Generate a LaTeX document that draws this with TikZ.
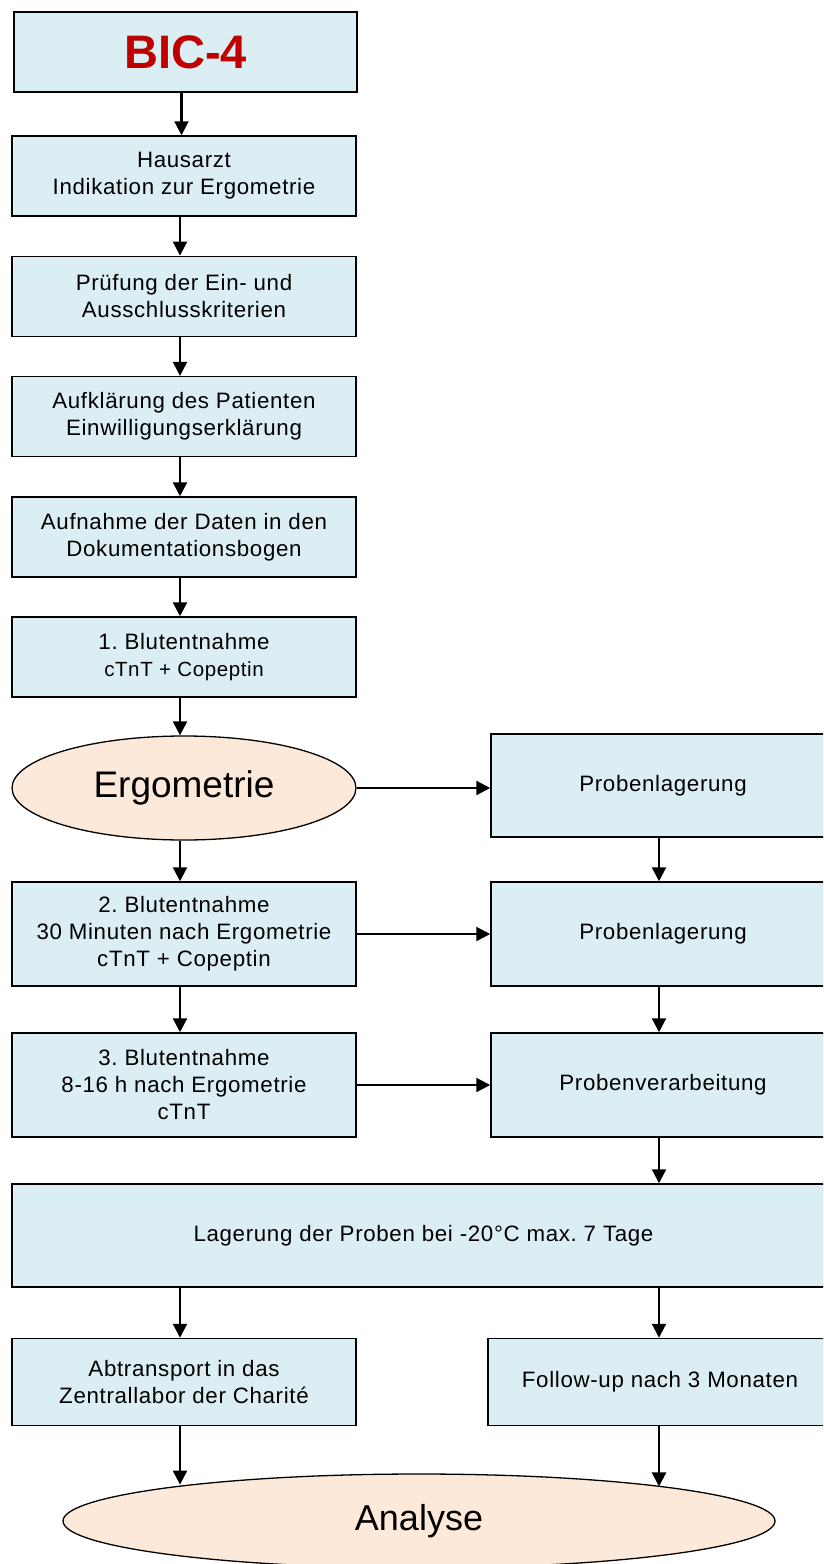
\documentclass[tikz,border=0pt]{standalone}
\usepackage{fontspec}
\setmainfont{Liberation Sans}
\newfontfamily\boxfont{Liberation Sans}[LetterSpace=3]
\usetikzlibrary{shapes.geometric,arrows.meta}
\definecolor{boxblue}{HTML}{DAEEF3}
\definecolor{peach}{HTML}{FDE9D9}
\definecolor{bicred}{HTML}{C00000}
\frenchspacing
\begin{document}
\begin{tikzpicture}[x=1pt,y=-1pt,
  box/.style={draw=black, line width=1.5pt, fill=boxblue, minimum width=344pt, minimum height=80pt,
    inner sep=0pt, align=center, font=\boxfont\frenchspacing\fontsize{22.3}{27}\selectfont},
  oval/.style={ellipse, draw=black, line width=1.3pt, fill=peach, inner sep=0pt},
  arr/.style={line width=2.2pt, -{Triangle[length=14pt,width=14pt]}}]
\clip (0,0) rectangle (823,1564);
\node[box, line width=2.5pt, minimum width=343pt, font=\rmfamily] (bic) at (185.5,52) {\fontsize{47}{50}\selectfont\bfseries\color{bicred}BIC-4};
\node[box] (haus) at (184,176) {Hausarzt\\Indikation zur Ergometrie};
\node[box] (pruef) at (184,296.3) {Prüfung der Ein- und\\Ausschlusskriterien};
\node[box] (aufkl) at (184,416.6) {Aufklärung des Patienten\\Einwilligungserklärung};
\node[box] (aufn) at (184,537) {Aufnahme der Daten in den\\Dokumentationsbogen};
\node[box] (b1) at (184,657) {1. Blutentnahme\\{\fontsize{20.5}{25}\selectfont cTnT + Copeptin}};
\node[oval, minimum width=344pt, minimum height=104pt, font=\fontsize{37}{40}\selectfont] (ergo) at (184,788) {Ergometrie};
\node[box, minimum height=103pt] (pl1) at (663,785.5) {Probenlagerung};
\node[box, minimum height=104pt] (b2) at (184,934) {2. Blutentnahme\\30 Minuten nach Ergometrie\\cTnT + Copeptin};
\node[box, minimum height=104pt] (pl2) at (663,934) {Probenlagerung};
\node[box, minimum height=104pt] (b3) at (184,1085) {3. Blutentnahme\\8-16 h nach Ergometrie\\cTnT};
\node[box, minimum height=104pt] (pv) at (663,1085) {Probenverarbeitung};
\node[box, minimum width=823pt, minimum height=103pt] (lag) at (423.5,1235.5) {Lagerung der Proben bei -20°C max. 7 Tage};
\node[box, minimum height=87pt] (abtr) at (184,1382) {Abtransport in das\\Zentrallabor der Charité};
\node[box, minimum height=87pt] (fu) at (660,1382) {Follow-up nach 3 Monaten};
\node[oval, minimum width=712pt, minimum height=94pt, font=\fontsize{36}{40}\selectfont] (ana) at (419,1521) {Analyse};
% vertical arrows, left column
\draw[arr] ([xshift=-4pt]bic.south) -- ([xshift=-4pt]bic.south |- haus.north);
\draw[arr] ([xshift=-4pt]haus.south) -- ([xshift=-4pt]haus.south |- pruef.north);
\draw[arr] ([xshift=-4pt]pruef.south) -- ([xshift=-4pt]pruef.south |- aufkl.north);
\draw[arr] ([xshift=-4pt]aufkl.south) -- ([xshift=-4pt]aufkl.south |- aufn.north);
\draw[arr] ([xshift=-4pt]aufn.south) -- ([xshift=-4pt]aufn.south |- b1.north);
\draw[arr] ([xshift=-4pt]b1.south) -- ([xshift=-4pt]b1.south |- ergo.north);
\draw[arr] ([xshift=-4pt]b2.north |- ergo.south) -- ([xshift=-4pt]b2.north);
\draw[arr] ([xshift=-4pt]b2.south) -- ([xshift=-4pt]b2.south |- b3.north);
% horizontal arrows
\draw[arr] (ergo.east) -- (ergo.east -| pl1.west);
\draw[arr] (b2.east) -- (pl2.west);
\draw[arr] (b3.east) -- (pv.west);
% right column
\draw[arr] ([xshift=-4pt]pl1.south) -- ([xshift=-4pt]pl1.south |- pl2.north);
\draw[arr] ([xshift=-4pt]pl2.south) -- ([xshift=-4pt]pl2.south |- pv.north);
\draw[arr] ([xshift=-4pt]pv.south) -- ([xshift=-4pt]pv.south |- lag.north);
% bottom
\draw[arr] ([xshift=-4pt]abtr.north |- lag.south) -- ([xshift=-4pt]abtr.north);
\draw[arr] ([xshift=-1pt]fu.north |- lag.south) -- ([xshift=-1pt]fu.north);
\draw[arr] ([xshift=-4pt]abtr.south) -- ([xshift=-4pt]abtr.south |- ana.171.7);
\draw[arr] ([xshift=-1pt]fu.south) -- ([xshift=-1pt]fu.south |- ana.8.2);
\end{tikzpicture}
\end{document}
